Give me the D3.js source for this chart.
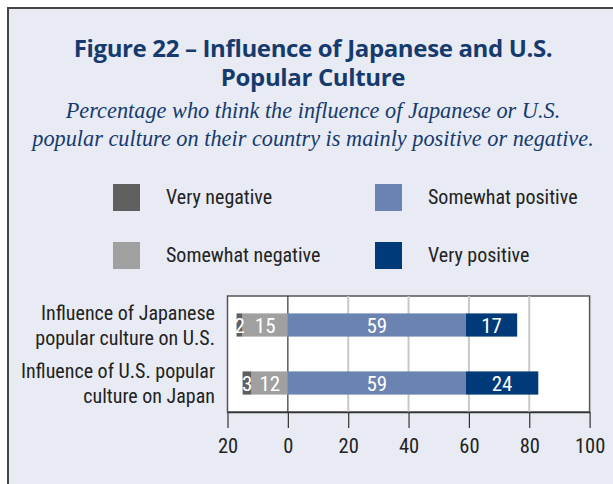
<!DOCTYPE html>
<meta charset="utf-8">
<script src="https://d3js.org/d3.v7.min.js"></script>

<style>
body {
  margin: 0;
  background: #fff;
}
svg {
  display: block;
}
.title {
  font-family: 'Open Sans', sans-serif;
  font-weight: 700;
  font-size: 24px;
  letter-spacing: -0.35px;
  fill: #163a6e;
}
.subtitle {
  font-family: 'Liberation Serif', serif;
  font-style: italic;
  font-size: 22.3px;
  fill: #163a6e;
}
.cond {
  font-family: 'Liberation Sans Narrow', 'Roboto Condensed', sans-serif;
}
.legend text {
  font-size: 20px;
  fill: #222;
}
.cat {
  font-size: 20px;
  fill: #222;
}
.val {
  font-size: 21px;
  fill: #fff;
}
</style>

<svg width="613" height="484"></svg>

<script>
const categories = ['Influence of Japanese|popular culture on U.S.', 'Influence of U.S. popular|culture on Japan'];
const seriesNames = ['Very negative', 'Somewhat negative', 'Somewhat positive', 'Very positive'];
const veryNegative = [2, 3];
const somewhatNegative = [15, 12];
const somewhatPositive = [59, 59];
const veryPositive = [17, 24];
const xTicks = [-20, 0, 20, 40, 60, 80, 100];

const colors = ['#5f5f5f', '#a0a0a0', '#6b83b0', '#003a78'];

const svg = d3.select('svg');

// panel background + frame
svg.append('rect')
  .attr('x', 8).attr('y', 8)
  .attr('width', 620).attr('height', 490)
  .attr('fill', '#e8ebf4')
  .attr('stroke', '#444')
  .attr('stroke-width', 2);

// title, two lines
const titleLines = ['Figure 22 \u2013 Influence of Japanese and U.S.', 'Popular Culture'];
const title = svg.append('text')
  .attr('class', 'title')
  .attr('text-anchor', 'middle');
title.selectAll('tspan')
  .data(titleLines)
  .enter().append('tspan')
  .attr('x', 313)
  .attr('y', (d, i) => 57 + i * 29)
  .text(d => d);

const subLines = ['Percentage who think the influence of Japanese or U.S.', 'popular culture on their country is mainly positive or negative.'];
const sub = svg.append('text')
  .attr('class', 'subtitle')
  .attr('text-anchor', 'middle');
sub.selectAll('tspan')
  .data(subLines)
  .enter().append('tspan')
  .attr('x', 313)
  .attr('y', (d, i) => 118 + i * 28)
  .text(d => d);

// legend
const legendPos = [[113, 184], [113, 242], [375, 184], [375, 242]];
const legend = svg.append('g').attr('class', 'legend cond');
seriesNames.forEach((name, i) => {
  const [lx, ly] = legendPos[i];
  legend.append('rect')
    .attr('x', lx).attr('y', ly)
    .attr('width', 27).attr('height', 27)
    .attr('fill', colors[i]);
  legend.append('text')
    .attr('x', lx + 53).attr('y', ly + 20)
    .text(name);
});

// plot
const pLeft = 227.5, pRight = 589.6, pTop = 296, pBottom = 412;

const x = d3.scaleLinear().domain([-20, 100]).range([pLeft, pRight]);
const y = d3.scaleBand().domain(categories).range([pTop, pBottom]).paddingInner(0.6).paddingOuter(0.3);

svg.append('rect')
  .attr('x', pLeft).attr('y', pTop)
  .attr('width', pRight - pLeft).attr('height', pBottom - pTop)
  .attr('fill', '#fff')
  .attr('stroke', '#555')
  .attr('stroke-width', 1.5);

svg.append('g')
  .selectAll('line')
  .data(xTicks.filter(t => t > 0 && t < 100))
  .enter().append('line')
  .attr('x1', d => x(d)).attr('x2', d => x(d))
  .attr('y1', pTop).attr('y2', pBottom)
  .attr('stroke', '#c8c8c8')
  .attr('stroke-width', 2);

svg.append('line')
  .attr('x1', x(0)).attr('x2', x(0))
  .attr('y1', pTop).attr('y2', pBottom)
  .attr('stroke', '#333')
  .attr('stroke-width', 1.2);

// stacked segments
const rows = categories.map((c, i) => {
  const segs = [];
  segs.push({ s: 0, x0: -somewhatNegative[i] - veryNegative[i], x1: -somewhatNegative[i], v: veryNegative[i] });
  segs.push({ s: 1, x0: -somewhatNegative[i], x1: 0, v: somewhatNegative[i] });
  segs.push({ s: 2, x0: 0, x1: somewhatPositive[i], v: somewhatPositive[i] });
  segs.push({ s: 3, x0: somewhatPositive[i], x1: somewhatPositive[i] + veryPositive[i], v: veryPositive[i] });
  return { cat: c, segs };
});

const rowG = svg.selectAll('.row')
  .data(rows)
  .enter().append('g')
  .attr('class', 'row');

rowG.selectAll('rect')
  .data(d => d.segs.map(s => Object.assign({ cat: d.cat }, s)))
  .enter().append('rect')
  .attr('x', d => x(d.x0))
  .attr('y', d => y(d.cat))
  .attr('width', d => x(d.x1) - x(d.x0))
  .attr('height', y.bandwidth())
  .attr('fill', d => colors[d.s]);

rowG.selectAll('text')
  .data(d => d.segs.map(s => Object.assign({ cat: d.cat }, s)))
  .enter().append('text')
  .attr('class', 'val cond')
  .attr('x', d => x((d.x0 + d.x1) / 2))
  .attr('y', d => y(d.cat) + y.bandwidth() / 2 + 7.5)
  .attr('text-anchor', 'middle')
  .text(d => d.v);

// category labels
const catG = svg.selectAll('.catlabel')
  .data(categories)
  .enter().append('text')
  .attr('class', 'cat cond')
  .attr('text-anchor', 'end');
catG.selectAll('tspan')
  .data(d => d.split('|').map(t => ({ t, cat: d })))
  .enter().append('tspan')
  .attr('x', 215)
  .attr('y', (d, i) => y(d.cat) + y.bandwidth() / 2 - 5 + i * 25)
  .text(d => d.t);

// x axis
const axis = svg.append('g')
  .attr('class', 'cond')
  .attr('transform', `translate(0,${pBottom})`)
  .call(d3.axisBottom(x).tickValues(xTicks).tickFormat(d => Math.abs(d)).tickSize(16).tickSizeOuter(0).tickPadding(10));
axis.select('.domain').attr('stroke', '#333').attr('stroke-width', 1.5);
axis.selectAll('.tick line').attr('stroke', '#333').attr('stroke-width', 1.2);
axis.selectAll('.tick text').attr('fill', '#222').style('font-size', '20.5px').style('font-family', null);
</script>
